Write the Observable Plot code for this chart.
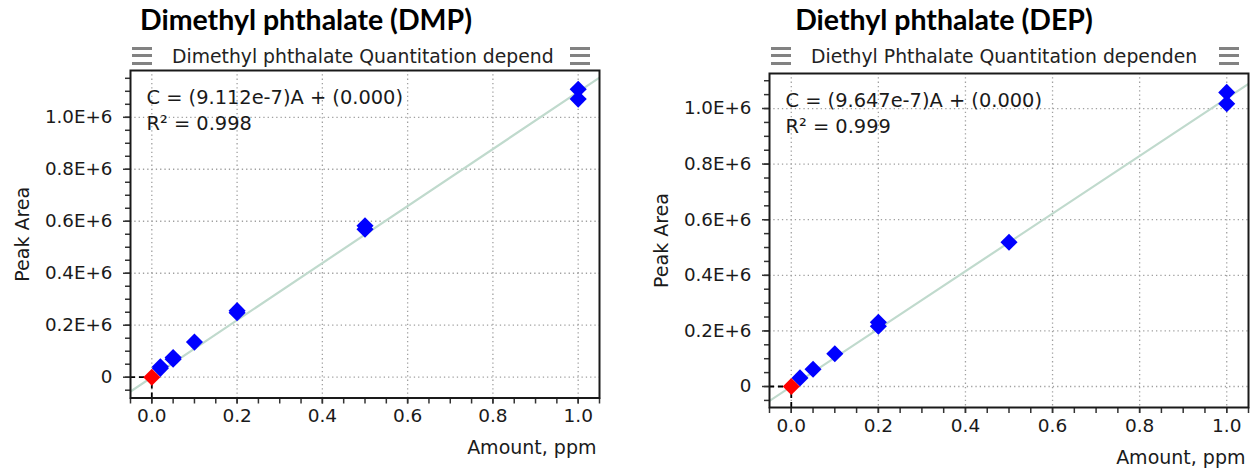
<!DOCTYPE html>
<html>
<head>
<meta charset="utf-8">
<script src="https://cdn.jsdelivr.net/npm/d3@7"></script>
<script src="https://cdn.jsdelivr.net/npm/@observablehq/plot@0.6"></script>
<style>
  body { margin: 0; background: #fff; }
  #wrap { position: relative; width: 1260px; height: 470px; overflow: hidden; font-family: "DejaVu Sans", sans-serif; }
  .title { position: absolute; top: 2px; width: 440px; text-align: center; font-family: Lato, "Liberation Sans", sans-serif; font-weight: bold; font-size: 28.5px; line-height: 34px; color: #000; white-space: nowrap; }
  .hdr { position: absolute; top: 46px; font-size: 18.8px; line-height: 22px; color: #222; white-space: nowrap; }
  .ico { position: absolute; top: 47px; width: 20px; height: 18px; background: repeating-linear-gradient(#828282 0 3px, transparent 3px 7.3px); }
  .panel { position: absolute; top: 0; }
</style>
</head>
<body>
<div id="wrap"></div>
<script>
// ---------- data ----------
const panelTitles = ["Dimethyl phthalate (DMP)", "Diethyl phthalate (DEP)"];
const headerTexts = ["Dimethyl phthalate Quantitation depend", "Diethyl Phthalate Quantitation dependen"];
const equations = ["C = (9.112e-7)A + (0.000)", "C = (9.647e-7)A + (0.000)"];
const r2Texts = ["R² = 0.998", "R² = 0.999"];
const slopes = [9.112e-7, 9.647e-7];        // C = slope * A
const xLabel = "Amount, ppm";
const yLabel = "Peak Area";

const xTickValues = [0, 0.2, 0.4, 0.6, 0.8, 1.0];
const xTickLabels = ["0.0", "0.2", "0.4", "0.6", "0.8", "1.0"];
const yTickValues = [0, 200000, 400000, 600000, 800000, 1000000];
const yTickLabels = ["0", "0.2E+6", "0.4E+6", "0.6E+6", "0.8E+6", "1.0E+6"];

// DMP calibration points
const dmpAmount = [0.02, 0.02, 0.05, 0.05, 0.1, 0.2, 0.2, 0.5, 0.5, 1.0, 1.0];
const dmpArea   = [34000, 40000, 69000, 76000, 135000, 248000, 256000, 569000, 583000, 1070000, 1108000];
// DEP calibration points
const depAmount = [0.02, 0.05, 0.1, 0.2, 0.2, 0.5, 1.0, 1.0];
const depArea   = [31000, 62000, 118000, 217000, 231000, 519000, 1017000, 1058000];
// blank (origin) points
const blankAmount = [0];
const blankArea = [0];

// ---------- panel builder ----------
const wrap = document.getElementById("wrap");

function buildPanel(cfg) {
  const {idx, left, width, mL, mR, mT, mB, yDomain, amount, area} = cfg;
  const xDomain = [-0.05, 1.05];
  const rows = amount.map((a, i) => ({amount: a, area: area[i]}));
  const blank = blankAmount.map((a, i) => ({amount: a, area: blankArea[i]}));
  const fit = xDomain.map(a => ({amount: a, area: a / slopes[idx]}));
  const xMinor = d3.range(-1, 22).map(i => i * 0.05);
  const yMinor = d3.range(-1, 25).map(i => i * 50000).filter(v => v <= yDomain[1]);
  const xLab = new Map(xTickValues.map((v, i) => [v, xTickLabels[i]]));
  const yLab = new Map(yTickValues.map((v, i) => [v, yTickLabels[i]]));

  const svg = Plot.plot({
    width, height: 470,
    marginLeft: mL, marginRight: mR, marginTop: mT, marginBottom: mB,
    x: {domain: xDomain, label: null},
    y: {domain: yDomain, label: null},
    style: {fontFamily: "DejaVu Sans", fontSize: "18px", color: "#1a1a1a", background: "transparent", overflow: "visible"},
    marks: [
      Plot.gridX(xTickValues, {stroke: "#a0a0a0", strokeOpacity: 1, strokeWidth: 1.3, strokeDasharray: "1.3,3"}),
      Plot.gridY(yTickValues, {stroke: "#a0a0a0", strokeOpacity: 1, strokeWidth: 1.3, strokeDasharray: "1.3,3"}),
      Plot.line(fit, {x: "amount", y: "area", stroke: "#c0dacd", strokeWidth: 2.2, clip: true}),
      Plot.ruleY([0], {x1: () => xDomain[0], x2: () => 0, stroke: "#000", strokeWidth: 1.8, strokeDasharray: "5,4"}),
      Plot.ruleX([0], {y1: () => yDomain[0], y2: () => 0, stroke: "#000", strokeWidth: 1.8, strokeDasharray: "5,4"}),
      Plot.dot(rows, {x: "amount", y: "area", symbol: "diamond2", r: 7.7, fill: "#0000ff", stroke: "none"}),
      Plot.dot(blank, {x: "amount", y: "area", symbol: "diamond2", r: 7.7, fill: "#ff0000", stroke: "none"}),
      Plot.axisX(xMinor, {tickSize: 6, strokeWidth: 1.5, stroke: "#333", tickFormat: () => "", label: null}),
      Plot.axisX(xTickValues, {tickSize: 6, tickPadding: 5, strokeWidth: 1.5, stroke: "#333", fontSize: 18.5, tickFormat: d => xLab.get(d), label: null}),
      Plot.axisY(yMinor, {tickSize: 5, strokeWidth: 1.5, stroke: "#333", tickFormat: () => "", label: null}),
      Plot.axisY(yTickValues, {tickSize: 7, tickPadding: 11, strokeWidth: 1.5, stroke: "#333", fontSize: 18.3, tickFormat: d => yLab.get(d), label: null}),
      Plot.frame({stroke: "#1a1a1a", strokeWidth: 2}),
      Plot.text([equations[idx]], {text: d => d, frameAnchor: "top-left", dx: 16, dy: 33, textAnchor: "start", lineAnchor: "bottom", fontSize: 19.4, fill: "#1a1a1a"}),
      Plot.text([r2Texts[idx]], {text: d => d, frameAnchor: "top-left", dx: 16, dy: 59, textAnchor: "start", lineAnchor: "bottom", fontSize: 19.4, fill: "#1a1a1a"}),
      Plot.text([xLabel], {text: d => d, frameAnchor: "bottom-right", dx: -3, dy: 56, textAnchor: "end", lineAnchor: "bottom", fontSize: 19, fill: "#1a1a1a"}),
      Plot.text([yLabel], {text: d => d, frameAnchor: "left", dx: -102, rotate: -90, textAnchor: "middle", lineAnchor: "bottom", fontSize: 19, fill: "#1a1a1a"})
    ]
  });
  svg.classList.add("panel");
  svg.style.left = left + "px";
  wrap.appendChild(svg);

  const frameL = left + mL, frameR = left + width - mR;
  const t = document.createElement("div");
  t.className = "title";
  t.textContent = panelTitles[idx];
  t.style.left = (cfg.titleCenter - 220) + "px";
  wrap.appendChild(t);

  const i1 = document.createElement("div");
  i1.className = "ico"; i1.style.left = (frameL + 2) + "px";
  wrap.appendChild(i1);
  const i2 = document.createElement("div");
  i2.className = "ico"; i2.style.left = (frameR - 29) + "px";
  wrap.appendChild(i2);

  const h = document.createElement("div");
  h.className = "hdr";
  h.textContent = headerTexts[idx];
  h.style.left = (frameL + 42) + "px";
  wrap.appendChild(h);
}

buildPanel({idx: 0, left: 0, width: 620, mL: 130, mR: 21, mT: 70, mB: 72.5,
  yDomain: [-80000, 1180000], amount: dmpAmount, area: dmpArea, titleCenter: 306});
buildPanel({idx: 1, left: 630, width: 630, mL: 139, mR: 12, mT: 73, mB: 63,
  yDomain: [-75500, 1126000], amount: depAmount, area: depArea, titleCenter: 944});
</script>
</body>
</html>
